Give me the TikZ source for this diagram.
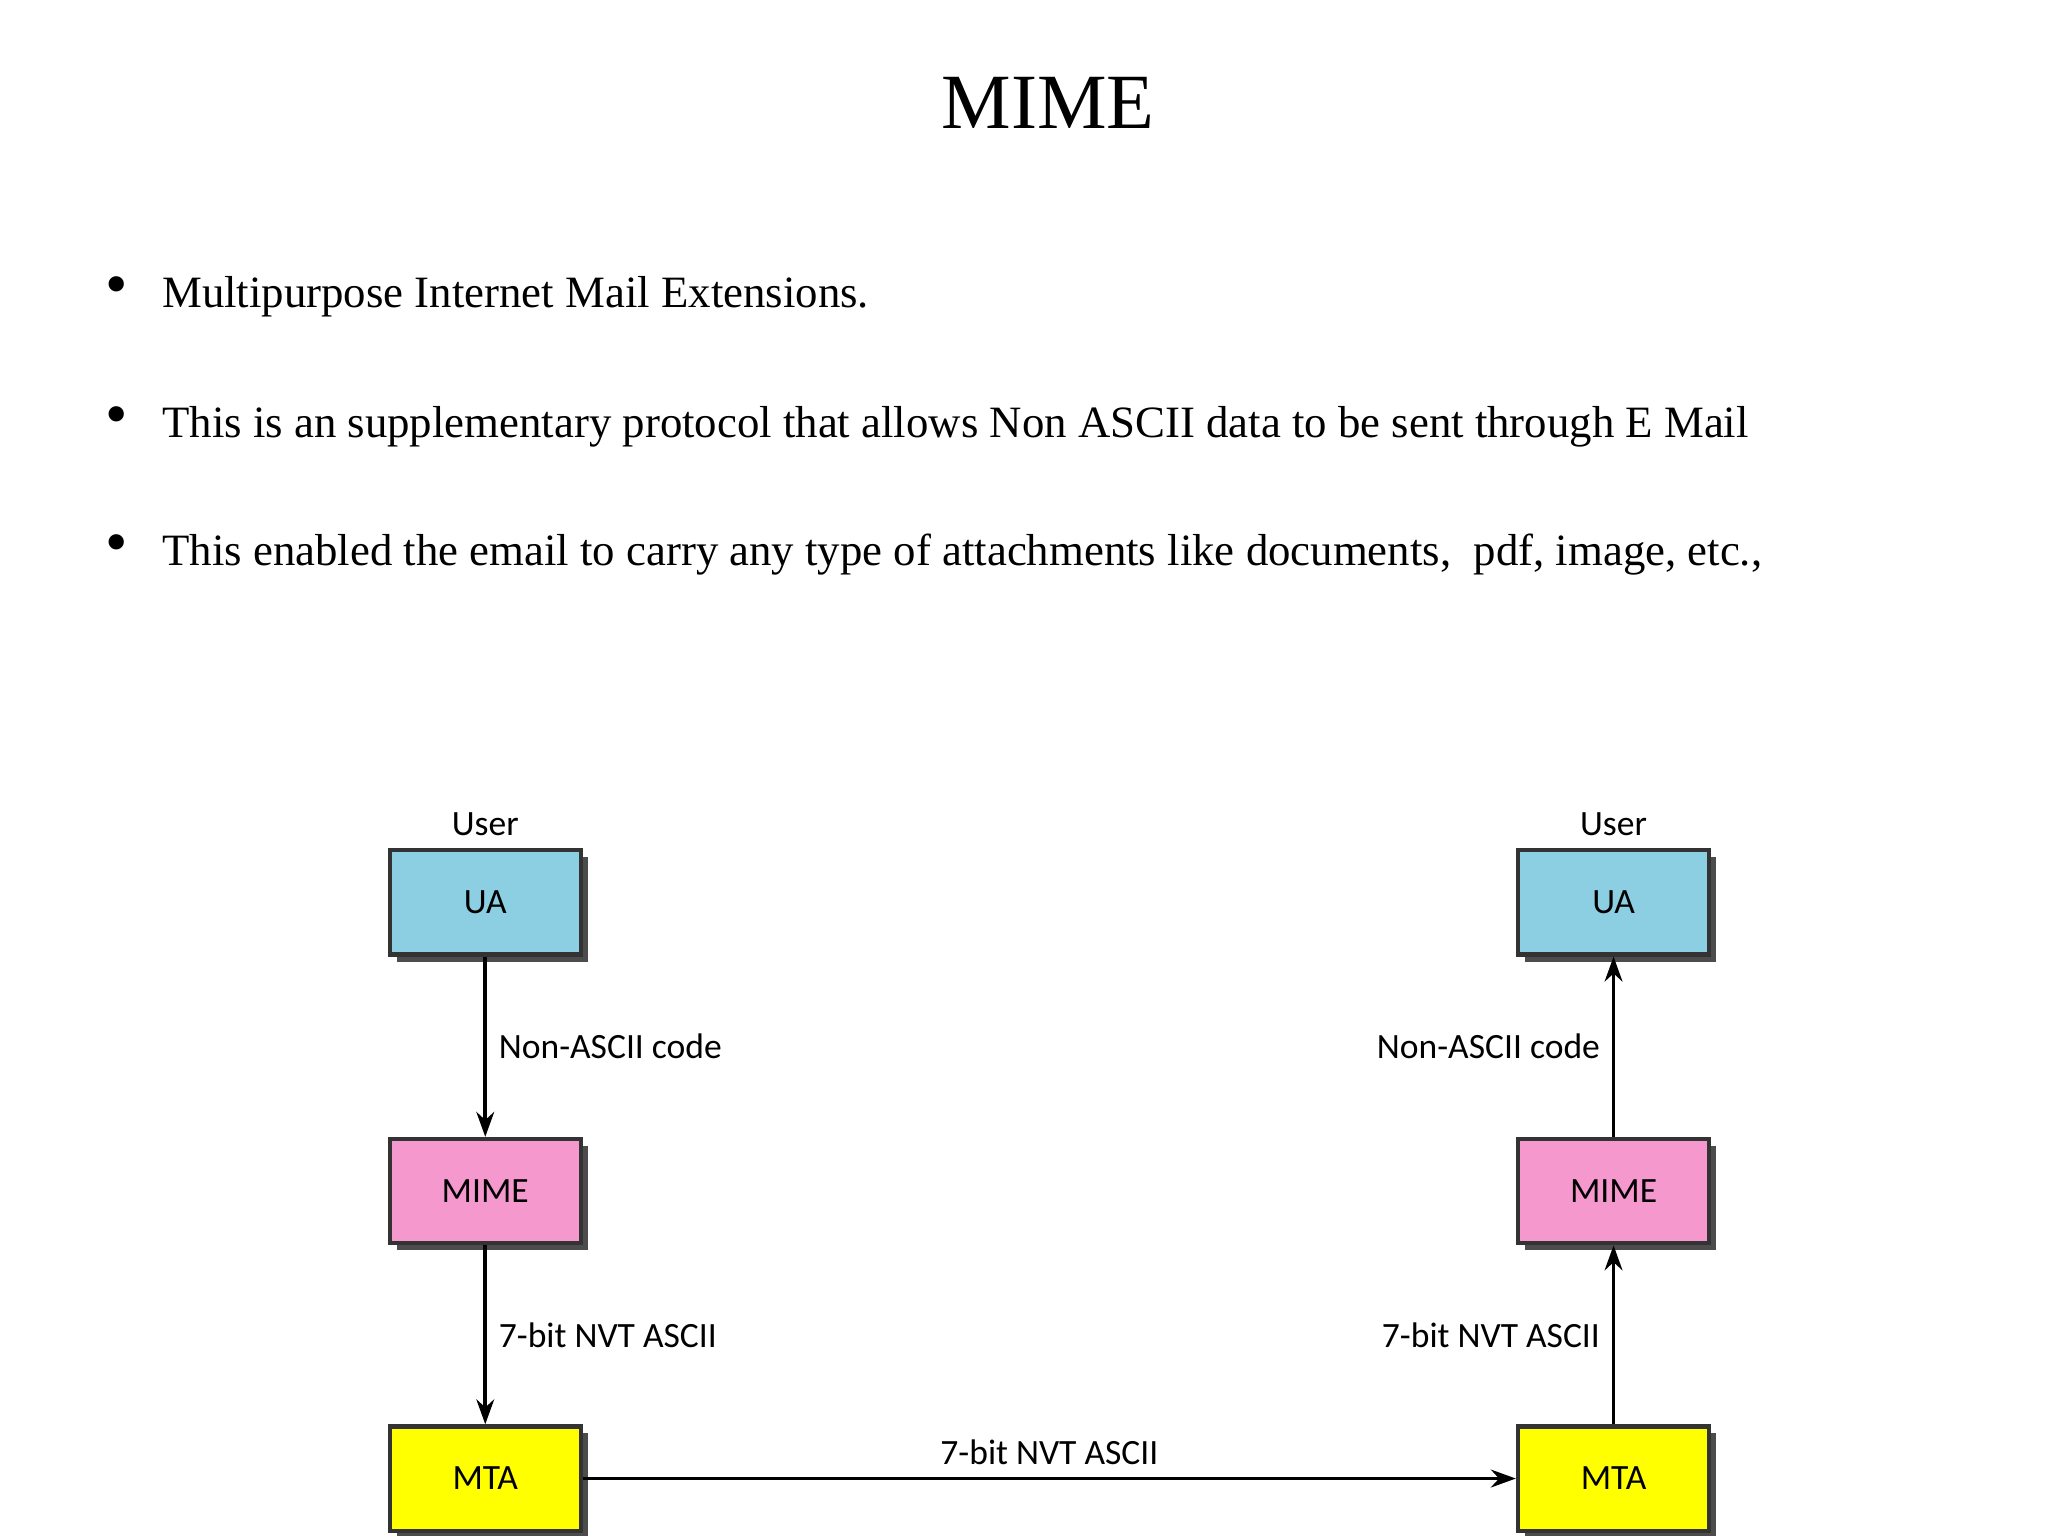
\documentclass[tikz,border=0pt]{standalone}
\usepackage{fontspec}
\setmainfont{Liberation Serif}
\newfontfamily\lab{Carlito}
\usetikzlibrary{arrows.meta,shadows}
\definecolor{uac}{RGB}{140,206,226}
\definecolor{mimec}{RGB}{244,152,206}
\definecolor{mtac}{RGB}{255,255,0}
\tikzset{
  box/.style={draw=black!80, line width=1.2pt, minimum width=143*0.013213cm, minimum height=78*0.013213cm, font=\lab\fontsize{10}{12}\selectfont,
    drop shadow={shadow xshift=0.07cm, shadow yshift=-0.07cm, fill=black!70, opacity=1}},
  lbl/.style={font=\lab\fontsize{10}{12}\selectfont},
  conn/.style={line width=1pt, -{Stealth[length=7pt,width=5pt]}},
  bul/.style={anchor=west, font=\fontsize{12.6}{15}\selectfont}
}
\begin{document}
\begin{tikzpicture}[x=0.013213cm, y=-0.013213cm]
\useasboundingbox (0,0) rectangle (1532,1149);
\node[font=\fontsize{22}{26}\selectfont] (title) at (784,77) {MIME};
\foreach \yy/\tt [count=\i] in {222/{Multipurpose Internet Mail Extensions.},319/{This is an supplementary protocol that allows Non ASCII data to be sent through E Mail},415/{This enabled the email to carry any type of attachments like documents,~~pdf, image, etc.,}}{
  \node[font=\fontsize{18}{20}\selectfont] (d\i) at (87,\yy-4) {\textbullet};
  \node[bul] (b\i) at (112,\yy) {\tt};
}
\node[box, fill=uac] (ua1) at (363,675) {UA};
\node[box, fill=mimec] (mi1) at (363,891) {MIME};
\node[box, fill=mtac] (mt1) at (363,1106) {MTA};
\node[box, fill=uac] (ua2) at (1207,675) {UA};
\node[box, fill=mimec] (mi2) at (1207,891) {MIME};
\node[box, fill=mtac] (mt2) at (1207,1106) {MTA};
\node[lbl, anchor=south] (u1) at (ua1.north) {User};
\node[lbl, anchor=south] (u2) at (ua2.north) {User};
\draw[conn] (ua1) -- node[lbl, right, pos=0.5] {Non-ASCII code} (mi1);
\draw[conn] (mi1) -- node[lbl, right, pos=0.5] {7-bit NVT ASCII} (mt1);
\draw[conn] (mi2) -- node[lbl, left, pos=0.5] {Non-ASCII code} (ua2);
\draw[conn] (mt2) -- node[lbl, left, pos=0.5] {7-bit NVT ASCII} (mi2);
\draw[conn] (mt1) -- node[lbl, above] {7-bit NVT ASCII} (mt2);
\end{tikzpicture}
\end{document}
